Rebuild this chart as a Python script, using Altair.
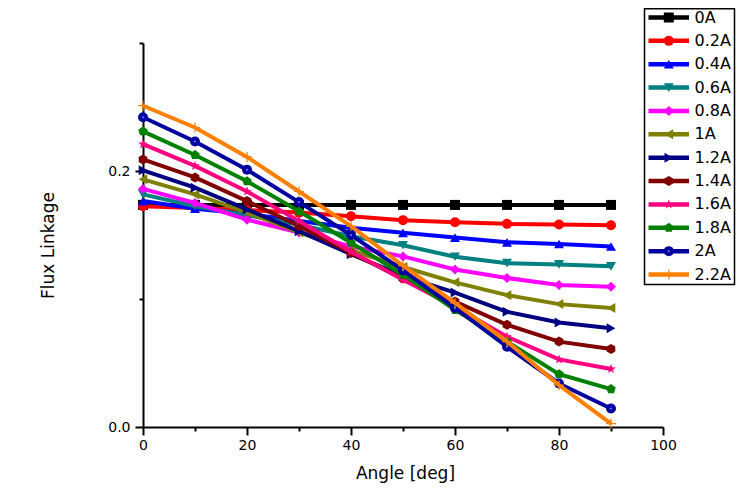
import math
import pandas as pd
import altair as alt

# ---------------- data ----------------
angles = [0, 10, 20, 30, 40, 50, 60, 70, 80, 90]
series_labels = ["0A", "0.2A", "0.4A", "0.6A", "0.8A", "1A",
                 "1.2A", "1.4A", "1.6A", "1.8A", "2A", "2.2A"]

flux_0A = [0.1735, 0.1735, 0.1735, 0.1735, 0.1735, 0.1735, 0.1735, 0.1735, 0.1735, 0.1735]
flux_02A = [0.1725, 0.171, 0.1695, 0.1675, 0.1647, 0.1616, 0.160, 0.1587, 0.1582, 0.1576]
flux_04A = [0.1765, 0.1705, 0.1665, 0.161, 0.1556, 0.1517, 0.148, 0.1443, 0.143, 0.141]
flux_06A = [0.1817, 0.1725, 0.1655, 0.158, 0.149, 0.142, 0.133, 0.128, 0.127, 0.1255]
flux_08A = [0.186, 0.175, 0.162, 0.152, 0.141, 0.1333, 0.123, 0.1164, 0.111, 0.1095]
flux_1A = [0.1935, 0.1817, 0.1676, 0.152, 0.138, 0.125, 0.113, 0.103, 0.096, 0.093]
flux_12A = [0.2005, 0.187, 0.170, 0.153, 0.135, 0.118, 0.105, 0.090, 0.0816, 0.0772]
flux_14A = [0.209, 0.195, 0.1765, 0.157, 0.136, 0.116, 0.098, 0.0798, 0.0667, 0.061]
flux_16A = [0.221, 0.204, 0.184, 0.161, 0.137, 0.115, 0.094, 0.0706, 0.0528, 0.0453]
flux_18A = [0.231, 0.2125, 0.192, 0.1686, 0.144, 0.119, 0.0915, 0.0667, 0.0413, 0.0296]
flux_2A = [0.242, 0.223, 0.201, 0.1757, 0.150, 0.1224, 0.093, 0.0627, 0.034, 0.0144]
flux_22A = [0.251, 0.234, 0.211, 0.184, 0.157, 0.126, 0.097, 0.0667, 0.0327, 0.0027]

all_series = [flux_0A, flux_02A, flux_04A, flux_06A, flux_08A, flux_1A,
              flux_12A, flux_14A, flux_16A, flux_18A, flux_2A, flux_22A]

x_major_ticks = [0, 20, 40, 60, 80, 100]
x_minor_ticks = [10, 30, 50, 70, 90]
y_major_ticks = [0.0, 0.2]
y_minor_ticks = [0.1, 0.3]

# ---------------- styles ----------------
colors = ["#000000", "#FF0000", "#0000FF", "#008080", "#FF00FF", "#808000",
          "#000080", "#800000", "#FF0080", "#008000", "#0000A0", "#FF8000"]


def poly_path(n, inner=None):
    pts = []
    steps = n * 2 if inner else n
    for k in range(steps):
        ang = -math.pi / 2 + k * 2 * math.pi / steps
        r = 1.0 if (not inner or k % 2 == 0) else inner
        pts.append(f"{r * math.cos(ang):.3f},{r * math.sin(ang):.3f}")
    return "M" + "L".join(pts) + "Z"


hexagon = poly_path(6)
pentagon = poly_path(5)
star = poly_path(5, inner=0.42)
plus_thin = "M-0.12,-1H0.12V-0.12H1V0.12H0.12V1H-0.12V0.12H-1V-0.12H-0.12Z"

shapes = ["square", "circle", "triangle-up", "triangle-down", "diamond", "triangle-left",
          "triangle-right", hexagon, star, pentagon, "circle", plus_thin]

FONT = "DejaVu Sans"

rows = []
for lab, vals in zip(series_labels, all_series):
    for a, v in zip(angles, vals):
        rows.append({"series": lab, "angle": a, "flux": v})
df = pd.DataFrame(rows)

xs = alt.Scale(domain=[0, 100], nice=False)
ys = alt.Scale(domain=[0, 0.3], nice=False, zero=True)
cs = alt.Scale(domain=series_labels, range=colors)
ss = alt.Scale(domain=series_labels, range=shapes)

x_major = alt.Axis(orient="bottom", values=x_major_ticks, format="d", tickSize=8,
                   labelFlush=False, labelPadding=3, title="Angle [deg]",
                   titleX=262, titleY=38, titleBaseline="top", titleAlign="center")
x_minor = alt.Axis(orient="bottom", values=x_minor_ticks, tickSize=4, labels=False,
                   domain=False, title="")
y_major = alt.Axis(orient="left", values=y_major_ticks, format=".1f", tickSize=8,
                   labelPadding=5, title="Flux Linkage", titleAngle=270,
                   titleX=-86, titleY=202, titleBaseline="bottom", titleAlign="center")
y_minor = alt.Axis(orient="left", values=y_minor_ticks, tickSize=4, labels=False,
                   domain=False, title="")

base = alt.Chart(df)
layers = []
for i, lab in enumerate(series_labels):
    sub = base.transform_filter(alt.datum.series == lab)
    line = sub.mark_line(strokeWidth=4).encode(
        x=alt.X("angle:Q", scale=xs, axis=x_major if i == 0 else None),
        y=alt.Y("flux:Q", scale=ys, axis=y_major if i == 0 else None),
        color=alt.Color("series:N", scale=cs, legend=None),
    )
    pts = sub.mark_point(filled=True, size=100, opacity=1).encode(
        x=alt.X("angle:Q", scale=xs, axis=x_minor if i == 0 else None),
        y=alt.Y("flux:Q", scale=ys, axis=y_minor if i == 0 else None),
        color=alt.Color("series:N", scale=cs, legend=None),
        shape=alt.Shape("series:N", scale=ss, legend=None),
    )
    layers += [line, pts]
    if lab == "2A":
        dot = sub.mark_point(filled=True, size=4, opacity=1, color="#8080F0").encode(
            x=alt.X("angle:Q", scale=xs, axis=None),
            y=alt.Y("flux:Q", scale=ys, axis=None),
        )
        layers.append(dot)

main = alt.layer(*layers).resolve_axis(x="independent", y="independent")

# ---------------- legend (built from the series labels) ----------------
leg_df = pd.DataFrame({"series": series_labels})
ly = alt.Y("series:N", sort=series_labels,
           scale=alt.Scale(type="point", domain=series_labels, range=[-25.5, 231.5], padding=0),
           axis=None)

leg_box = alt.Chart(pd.DataFrame({"b": [0]})).mark_rect(
    fill="white", stroke="black", strokeWidth=1.5).encode(
    x=alt.value(501.5), x2=alt.value(591.5), y=alt.value(-34.2), y2=alt.value(241.5))
leg_line = alt.Chart(leg_df).mark_rule(strokeWidth=4.5).encode(
    x=alt.value(505.5), x2=alt.value(546), y=ly,
    color=alt.Color("series:N", scale=cs, legend=None))
leg_pt = alt.Chart(leg_df).mark_point(filled=True, size=100, opacity=1).encode(
    x=alt.value(525.8), y=ly,
    color=alt.Color("series:N", scale=cs, legend=None),
    shape=alt.Shape("series:N", scale=ss, legend=None))
leg_dot = alt.Chart(leg_df).transform_filter(alt.datum.series == "2A").mark_point(
    filled=True, size=4, opacity=1, color="#8080F0").encode(x=alt.value(525.8), y=ly)
leg_txt = alt.Chart(leg_df).mark_text(
    align="left", baseline="middle", font=FONT, fontSize=16, color="black").encode(
    x=alt.value(551.5), y=ly, text="series:N")

legend = alt.layer(leg_box, leg_line, leg_pt, leg_dot, leg_txt)

chart = alt.layer(main, legend).resolve_scale(y="independent").properties(
    width=520, height=384, autosize="none",
    padding={"left": 135, "top": 35, "right": 85, "bottom": 57},
    background="white",
).configure_view(stroke="transparent").configure_axis(
    grid=False, domainColor="black", domainWidth=2, tickColor="black", tickWidth=2,
    labelFont=FONT, labelFontSize=14, labelColor="black",
    titleFont=FONT, titleFontSize=17, titleFontWeight="normal", titleColor="black",
)

chart.save("out.html", embed_options={"renderer": "svg", "actions": False})
